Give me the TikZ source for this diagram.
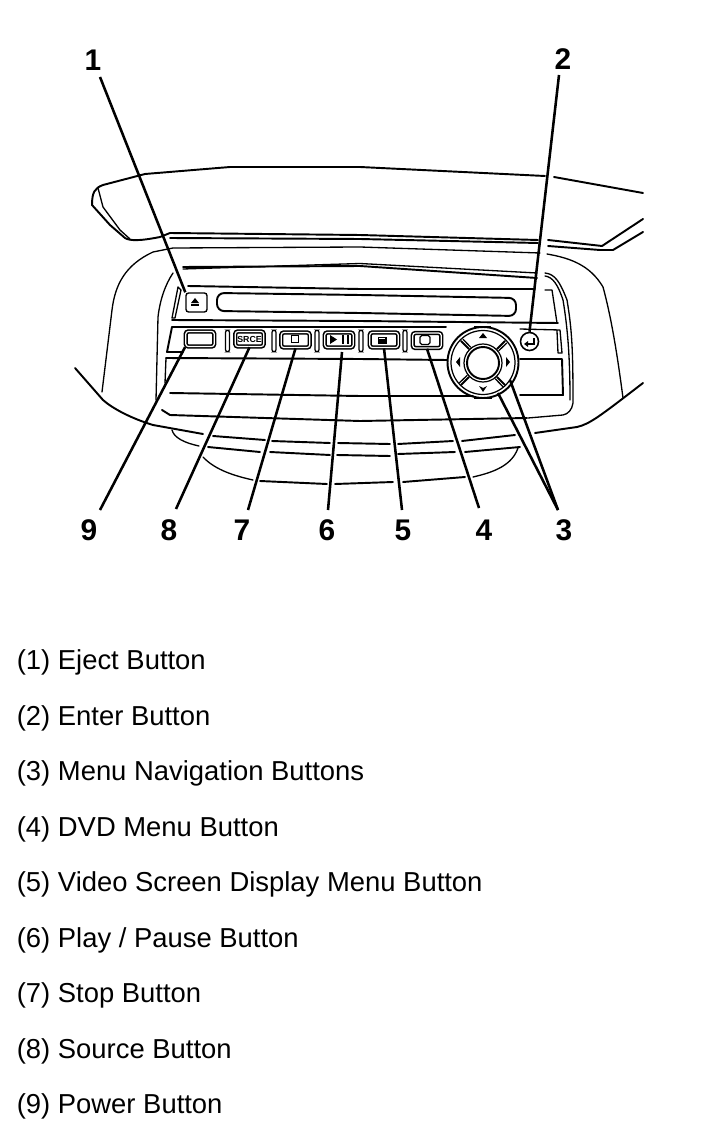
\documentclass[tikz,border=0pt]{standalone}
\usepackage{fontspec}
\setmainfont{Liberation Sans}
\usetikzlibrary{positioning, calc}
\begin{document}
\begin{tikzpicture}[
    x=0.02cm, y=-0.02cm,
    outline/.style={line width=1.1pt, line join=round, line cap=round},
    thinline/.style={line width=0.75pt, line join=round, line cap=round},
    leader/.style={line width=1.45pt},
    callout/.style={font=\fontsize{17}{18}\selectfont\bfseries, inner sep=0pt},
    legend/.style={font=\fontsize{15.6}{18}\selectfont, anchor=west, inner sep=0pt},
    panelbtn/.style={draw, line width=0.9pt, double, double distance=0.7pt, rounded corners=1.5pt, minimum width=0.57cm, minimum height=0.3cm, inner sep=0pt},
    pill/.style={draw, line width=0.7pt, rounded corners=1.2pt, minimum width=0.08cm, minimum height=0.43cm, inner sep=0pt},
    glyph/.style={fill=black, inner sep=0pt}
]
    \useasboundingbox (0,0) rectangle (704,1128);

    % Hood
    \draw[outline] (643,193) -- (554,177);
    \draw[outline] (545,176) -- (360,167) -- (230,167) -- (145,174) -- (103,185) .. controls (95,188) and (92,192) .. (92,205) -- (110,225) -- (125,238) .. controls (130,241) and (140,241) .. (160,237) -- (170,233) -- (360,235) -- (538,240);
    \draw[outline] (548,240) -- (602,246) -- (643,219);
    \draw[thinline] (98,188) -- (103,207) -- (120,230) -- (130,239);
    \draw[outline] (170,238) -- (360,239) -- (538,243);
    \draw[outline] (548,246) -- (600,250) -- (613,250) -- (643,232);

    % Body
    \draw[thinline] (102,392) -- (112,310) .. controls (115,285) and (125,265) .. (153,252) -- (173,248) -- (360,247) -- (540,253);
    \draw[thinline] (547,254) .. controls (570,258) and (590,265) .. (603,287) .. controls (612,320) and (618,360) .. (623,398);
    \draw[outline] (75,368) -- (103,400) .. controls (112,408) and (130,418) .. (153,425) -- (203,434);
    \draw[outline] (213,436) -- (265,440);
    \draw[outline] (272,441) -- (330,443);
    \draw[outline] (338,443) -- (390,444);
    \draw[outline] (398,444) -- (453,441);
    \draw[outline] (462,441) -- (515,435);
    \draw[outline] (535,433) -- (577,427) .. controls (590,424) and (600,416) .. (643,383);

    % Inner frame
    \draw[outline] (183,267) -- (360,266) -- (537,278);
    \draw[thinline] (183,269) -- (360,263.5) -- (537,273);
    \draw[thinline] (173,273) .. controls (165,285) and (160,300) .. (158,317) -- (156,400);
    \draw[thinline] (545,273) .. controls (555,274) and (560,282) .. (567,300) .. controls (572,330) and (573,350) .. (573,403) .. controls (572,410) and (568,414) .. (563,415) -- (528,418);
    \draw[thinline] (545,276) .. controls (553,277) and (558,285) .. (563,300) .. controls (568,330) and (570,360) .. (570,400);

    % Upper panel
    \draw[outline] (188,286) -- (360,289) -- (535,289);
    \draw[outline] (172,320) -- (360,321) -- (558,323);
    \draw[thinline] (178,287) -- (172,318) -- (175,318) -- (181,290) -- cycle;
    \draw[thinline] (545,290) -- (552,290) -- (557,323);
    \node[draw, line width=0.8pt, rounded corners=1.5pt, minimum width=0.42cm, minimum height=0.38cm, inner sep=0pt] (ejectbtn) at (196.5,302.5) {};
    \fill (191,303) -- (195,298) -- (199,303) -- cycle;
    \draw[line width=0.6pt] (191,305) -- (199,305);
    \draw[outline, rounded corners=4pt] (217,293) -- (360,295) -- (516,298) -- (516,316) -- (360,313) -- (217,311) -- cycle;

    % Button row
    \draw[outline] (172,327) -- (360,327) -- (446,327);
    \draw[outline] (172,327) -- (167,352) -- (183,352);
    \draw[thinline] (520,329) -- (560,330) -- (562,353) -- (558,353) -- (557,331);
    \node[panelbtn] (powerbtn) at (200,339) {};
    \node[panelbtn] (sourcebtn) at (249.5,339) {\fontsize{5}{5}\selectfont\bfseries SRCE};
    \node[panelbtn] (stopbtn) at (295.5,340) {};
    \node[panelbtn] (playbtn) at (339,340) {};
    \node[panelbtn] (vsdbtn) at (384,340) {};
    \node[panelbtn] (dvdbtn) at (427,340.5) {};
    \node[pill] (sep1) at (227.5,341) {};
    \node[pill] (sep2) at (274,341) {};
    \node[pill] (sep3) at (317,341) {};
    \node[pill] (sep4) at (361,341) {};
    \node[pill] (sep5) at (405,341) {};
    \node[draw, line width=0.7pt, minimum size=0.15cm, inner sep=0pt] (stopicon) at (295,339) {};
    \fill (330,335) -- (337,339.5) -- (330,344) -- cycle;
    \fill (342,335) rectangle (343.5,344);
    \fill (347,335) rectangle (348.5,344);
    \node[glyph, minimum width=0.18cm, minimum height=0.14cm] (vsdicon) at (382,340) {};
    \draw[white, line width=0.4pt] (379,338.5) -- (385,338.5);
    \node[draw, line width=0.7pt, rounded corners=1pt, minimum width=0.2cm, minimum height=0.18cm, inner sep=0pt] (dvdicon) at (425,340) {};
    \node[circle, draw, line width=0.9pt, minimum size=0.36cm, inner sep=0pt] (enterbtn) at (529.5,341.5) {};
    \draw[line width=0.9pt] (534,338) -- (534,344) -- (527,344);
    \fill (524,344) -- (528,341) -- (528,347) -- cycle;

    % Nav pad
    \node[circle, draw, line width=1.1pt, minimum size=1.42cm, inner sep=0pt] (navring) at (483,362.5) {};
    \node[circle, draw, line width=0.7pt, minimum size=1.28cm, inner sep=0pt] (navinner) at (483,362.5) {};
    \node[circle, draw, line width=1.1pt, minimum size=0.64cm, inner sep=0pt] (navcenter) at (483,363) {};
    \node[circle, draw, line width=0.7pt, minimum size=0.76cm, inner sep=0pt] (navcollar) at (483,363) {};
    \foreach \ang in {45,135,225,315}{
        \draw[outline] ($(navcenter)+(\ang:20)$) -- ($(navcenter)+(\ang:31)$);
        \draw[thinline] ($(navcenter)+(\ang+7:20)$) -- ($(navcenter)+(\ang+5:31)$);
    }
    \fill (483,333) -- (487,338) -- (479,338) -- cycle;
    \fill (483,392) -- (479,386) -- (483,388) -- (487,386) -- cycle;
    \fill (456,362) -- (460,357) -- (460,367) -- cycle;
    \fill (510,362) -- (506,357) -- (506,367) -- cycle;
    \draw[line width=1.4pt] (474,327) -- (491,327);
    \draw[line width=1.4pt] (474,398) -- (492,398);

    % Lower panel
    \draw[outline] (166,358) -- (360,359) -- (447,360);
    \draw[outline] (520,359) -- (562,359) -- (563,395) -- (520,395);
    \draw[thinline] (166,358) -- (165,383);
    \draw[outline] (170,393) -- (360,396) -- (473,396);
    \draw[outline] (162,410) -- (170,415) -- (360,421) -- (527,418);

    % Under the panel
    \draw[thinline] (172,430) .. controls (174,438) and (185,443) .. (199,446);
    \draw[outline] (208,447) -- (260,452);
    \draw[outline] (270,452) -- (330,455);
    \draw[outline] (337,455) -- (390,456);
    \draw[outline] (398,454) -- (455,452);
    \draw[outline] (465,452) -- (520,447);
    \draw[thinline] (203,457) .. controls (215,470) and (235,476) .. (253,480);
    \draw[outline] (260,481) -- (327,484);
    \draw[outline] (335,484) -- (393,482);
    \draw[outline] (403,482) -- (465,477);
    \draw[thinline] (473,477) .. controls (495,472) and (512,465) .. (518,448);

    % Callouts
    \node[callout] (num1) at (93,60) {1};
    \node[callout] (num2) at (563,59) {2};
    \node[callout] (num3) at (564,530) {3};
    \node[callout] (num4) at (484,530) {4};
    \node[callout] (num5) at (403,530) {5};
    \node[callout] (num6) at (327,530) {6};
    \node[callout] (num7) at (242,530) {7};
    \node[callout] (num8) at (169,530) {8};
    \node[callout] (num9) at (89,530) {9};

    % Leaders
    \coordinate (tipone) at (100,77);
    \coordinate (tiptwo) at (559,75);
    \coordinate (tipthree) at (558,510);
    \coordinate (tipfour) at (479,508);
    \coordinate (tipfive) at (402,510);
    \coordinate (tipsix) at (328,510);
    \coordinate (tipseven) at (248,510);
    \coordinate (tipeight) at (176,509);
    \coordinate (tipnine) at (100,510);
    \coordinate (nava) at (510,380);
    \coordinate (navb) at (498,393);
    \coordinate (playtip) at (342,352);
    \draw[leader] (tipone) -- (ejectbtn.north west);
    \draw[leader] (tiptwo) -- (enterbtn.north);
    \draw[leader] (tipthree) -- (nava);
    \draw[leader] (tipthree) -- (navb);
    \draw[leader] (tipfour) -- (dvdbtn.south);
    \draw[leader] (tipfive) -- (vsdbtn.south);
    \draw[leader] (tipsix) -- (playtip);
    \draw[leader] (tipseven) -- (stopbtn.south);
    \draw[leader] (tipeight) -- (sourcebtn.south);
    \draw[leader] (tipnine) -- (powerbtn.south west);

    % Legend
    \node[legend] (item1) at (16.5,662) {(1) Eject Button};
    \node[legend] (item2) at (16.5,718) {(2) Enter Button};
    \node[legend] (item3) at (16.5,773) {(3) Menu Navigation Buttons};
    \node[legend] (item4) at (16.5,829) {(4) DVD Menu Button};
    \node[legend] (item5) at (16.5,884) {(5) Video Screen Display Menu Button};
    \node[legend] (item6) at (16.5,940) {(6) Play / Pause Button};
    \node[legend] (item7) at (16.5,995) {(7) Stop Button};
    \node[legend] (item8) at (16.5,1051) {(8) Source Button};
    \node[legend] (item9) at (16.5,1106) {(9) Power Button};
\end{tikzpicture}
\end{document}
